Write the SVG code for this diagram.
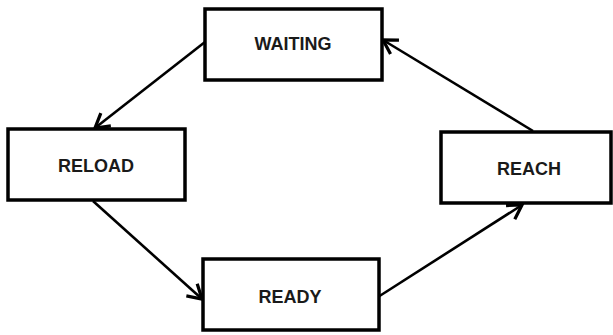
<svg xmlns="http://www.w3.org/2000/svg" width="613" height="335" viewBox="0 0 613 335">
<style>
.box{fill:#fff;stroke:#000;stroke-width:3.5}
.lbl{font-family:"Liberation Sans",Arial,sans-serif;font-weight:bold;font-size:18px;fill:#1a1a1a;text-anchor:middle}
.edge{fill:none;stroke:#000;stroke-width:2.6}
</style>
<defs>
<marker id="arr" markerUnits="userSpaceOnUse" markerWidth="20" markerHeight="20" refX="0" refY="0" viewBox="-12 -8 14 16" orient="auto" overflow="visible">
<path d="M -11 -6.5 L 0 0 L -11 6.5" fill="none" stroke="#000" stroke-width="2.6"/>
</marker>
</defs>
<rect width="613" height="335" fill="#fff"/>
<g id="connectors">
<line class="edge" x1="205" y1="42" x2="95" y2="128" marker-end="url(#arr)"/>
<line class="edge" x1="93" y1="201" x2="202" y2="299" marker-end="url(#arr)"/>
<line class="edge" x1="378" y1="297" x2="522" y2="205" marker-end="url(#arr)"/>
<line class="edge" x1="533" y1="131" x2="383" y2="40" marker-end="url(#arr)"/>
</g>
<g id="waiting"><rect class="box" x="205" y="9" width="177" height="71"/><text class="lbl" x="293" y="50">WAITING</text></g>
<g id="reload"><rect class="box" x="8" y="129" width="177" height="71"/><text class="lbl" x="96" y="172">RELOAD</text></g>
<g id="ready"><rect class="box" x="203" y="259" width="176" height="71"/><text class="lbl" x="290" y="303">READY</text></g>
<g id="reach"><rect class="box" x="441" y="132" width="170" height="71"/><text class="lbl" x="529" y="175">REACH</text></g>
</svg>
